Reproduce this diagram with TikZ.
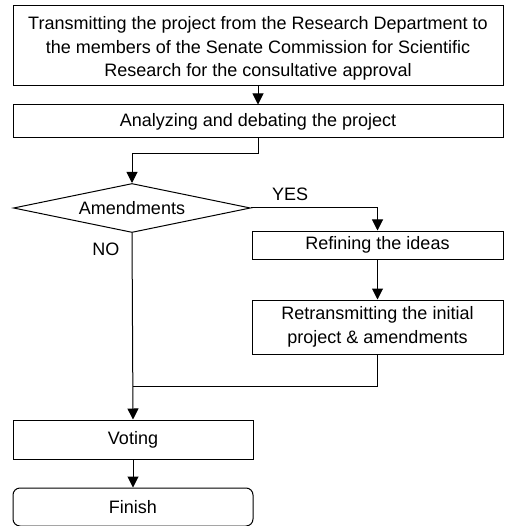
\documentclass[tikz,border=0pt]{standalone}
\usepackage{fontspec}
\setmainfont{Liberation Sans}
\usetikzlibrary{arrows.meta,positioning,shapes.geometric}
\tikzset{
  procbox/.style={draw=black,line width=1pt,fill=white,align=center,inner sep=2pt},
  endbox/.style={procbox,rounded corners=7pt},
  decision/.style={draw=black,line width=1pt,diamond,aspect=4.8,inner sep=0pt,minimum width=237pt,minimum height=49pt},
  flow/.style={-{Triangle[length=11pt,width=11pt]},line width=1pt},
  link/.style={line width=1pt}
}
\begin{document}
\begin{tikzpicture}[x=1pt,y=-1pt,font=\fontsize{18}{23.5}\selectfont]
  \useasboundingbox (0,0) rectangle (505,526);
  \node[procbox,minimum width=490pt,minimum height=80pt,text height=66pt,text depth=4pt] (transmit) at (258,46) {Transmitting the project from the Research Department to\\the members of the Senate Commission for Scientific\\Research for the consultative approval};
  \node[procbox,minimum width=490pt,minimum height=33pt,below=18pt of transmit] (analyze) {Analyzing and debating the project};
  \node[decision] (amend) at (132,208) {Amendments};
  \node[procbox,minimum width=251pt,minimum height=28pt] (refine) at (377.5,245) {Refining the ideas};
  \node[procbox,minimum width=251pt,minimum height=54pt,below=40pt of refine] (retrans) {Retransmitting the initial\\project \& amendments};
  \node[procbox,minimum width=240pt,minimum height=39pt] (voting) at (133,439.5) {Voting};
  \node[endbox,minimum width=240pt,minimum height=38pt,below=28pt of voting] (finish) {Finish};
  \draw[flow] (transmit) -- (analyze);
  \draw[flow] (analyze.south) -- ++(0,15) -| (amend.north);
  \draw[flow] (amend.east) -| node[pos=0.155,above=3pt]{YES} (refine.north);
  \draw[flow] (refine) -- (retrans);
  \draw[flow] (amend.south) -- node[pos=0.085,left=9pt]{NO} (voting.north);
  \draw[link] (retrans.south) |- ([yshift=33pt]voting.north);
  \draw[flow] (voting) -- (finish);
\end{tikzpicture}
\end{document}
